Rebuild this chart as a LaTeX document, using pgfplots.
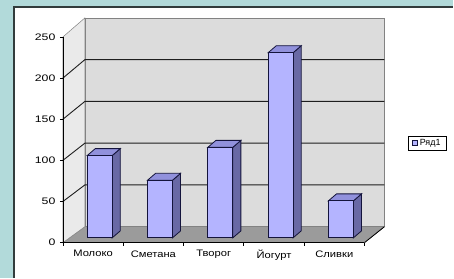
\documentclass[border=0pt]{standalone}
\usepackage{fontspec}
\setmainfont{Liberation Sans}
\usepackage{pgfplots}
\usepackage{pgfplotstable}
\pgfplotsset{compat=1.18}
\definecolor{bgteal}{RGB}{178,218,218}
\definecolor{chartborder}{RGB}{50,60,60}
\definecolor{backwall}{RGB}{220,220,220}
\definecolor{leftwall}{RGB}{234,234,234}
\definecolor{floorc}{RGB}{155,155,155}
\definecolor{wallline}{RGB}{130,130,130}
\definecolor{gridc}{RGB}{30,30,30}
\definecolor{barfront}{RGB}{180,180,255}
\definecolor{bartop}{RGB}{145,145,220}
\definecolor{barside}{RGB}{105,105,165}
\definecolor{barline}{RGB}{20,20,60}

\pgfplotstableread{
idx val
0 100
1 70
2 110
3 225
4 45
}\datatable

\begin{document}
\begin{tikzpicture}
\fill[bgteal] (-63bp,-35bp) rectangle (391bp,243bp);
\fill[white] (-49bp,-35bp) rectangle (391bp,236bp);
\draw[chartborder, line width=1.3bp] (-49bp,-35bp) -- (-49bp,236bp) -- (391bp,236bp);
\begin{axis}[
  scale only axis, width=302bp, height=206bp,
  xmin=0, xmax=5, ymin=0, ymax=250,
  clip=false, axis on top,
  axis lines=left, axis line style={-, black, line width=0.8bp},
  xtick={0.5,1.5,2.5,3.5,4.5},
  xticklabels={Молоко,Сметана,Творог,Йогурт,Сливки},
  minor xtick={0,1,2,3,4,5},
  ytick={0,50,100,150,200,250},
  minor ytick={0,50,100,150,200,250},
  major tick style={draw=none},
  minor tick style={draw=black, line width=0.8bp},
  minor tick length=3bp,
  tick align=outside,
  /pgf/number format/assume math mode=true,
  xticklabel style={font=\fontsize{9.5}{10}\selectfont, xscale=1.18, yshift=0bp},
  yticklabel style={font=\fontsize{9.5}{10}\selectfont, xscale=1.3, xshift=1bp},
  legend style={at={(1.2086,0.483)}, anchor=center, draw=black, line width=0.7bp,
    font=\fontsize{9}{9}\selectfont, inner xsep=4bp, inner ysep=1.2bp},
  legend cell align=left,
  legend image code/.code={\draw[#1, draw=barline, line width=0.6bp] (0bp,-2.5bp) rectangle (5bp,2.5bp);},
]
% walls and floor
\addplot[forget plot, fill=floorc, draw=wallline, line width=0.5bp] coordinates {(0,0) (5,0) (5.331,19.4) (0.364,19.4)} -- cycle;
\addplot[forget plot, fill=leftwall, draw=wallline, line width=0.5bp] coordinates {(0,0) (0.364,19.4) (0.364,273.1) (0,250)} -- cycle;
\addplot[forget plot, fill=backwall, draw=wallline, line width=0.5bp] coordinates {(0.364,19.4) (5.331,19.4) (5.331,273.1) (0.364,273.1)} -- cycle;
% gridlines
\addplot[forget plot, gridc, line width=0.9bp] coordinates {(0,50) (0.364,70.15) (5.331,70.15)};
\addplot[forget plot, gridc, line width=0.9bp] coordinates {(0,100) (0.364,120.9) (5.331,120.9)};
\addplot[forget plot, gridc, line width=0.9bp] coordinates {(0,150) (0.364,171.65) (5.331,171.65)};
\addplot[forget plot, gridc, line width=0.9bp] coordinates {(0,200) (0.364,222.4) (5.331,222.4)};
\addplot[forget plot, black, line width=0.8bp] coordinates {(5,0) (5.331,19.4)};
% bars
\pgfplotsforeachungrouped \i in {0,...,4}{%
  \pgfplotstablegetelem{\i}{val}\of\datatable
  \pgfmathsetmacro\bv{\pgfplotsretval}%
  \pgfmathsetmacro\xl{\i+0.402}%
  \pgfmathsetmacro\xr{\i+0.816}%
  \pgfmathsetmacro\xrr{\i+0.951}%
  \pgfmathsetmacro\xlr{\i+0.537}%
  \pgfmathsetmacro\yt{5.8+\bv}%
  \pgfmathsetmacro\ytt{14.3+\bv}%
  \edef\temp{%
    \noexpand\addplot[forget plot, draw=barline, line width=0.8bp, fill=barside] coordinates {(\xr,5.8) (\xrr,14.3) (\xrr,\ytt) (\xr,\yt)} -- cycle;
    \noexpand\addplot[forget plot, draw=barline, line width=0.8bp, fill=bartop] coordinates {(\xl,\yt) (\xr,\yt) (\xrr,\ytt) (\xlr,\ytt)} -- cycle;
    \noexpand\addplot[forget plot, draw=barline, line width=0.8bp, fill=barfront] coordinates {(\xl,5.8) (\xr,5.8) (\xr,\yt) (\xl,\yt)} -- cycle;
  }\temp
}
\addlegendimage{fill=barfront}
\addlegendentry{Ряд1}
\end{axis}
\end{tikzpicture}
\end{document}
